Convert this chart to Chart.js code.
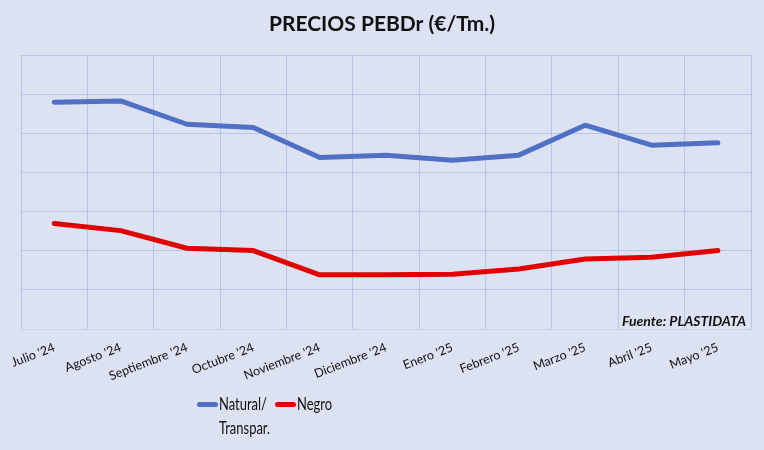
<!DOCTYPE html>
<html>
<head>
<meta charset="utf-8">
<script src="https://cdn.jsdelivr.net/npm/chart.js@4/dist/chart.umd.min.js"></script>
<style>
  html, body { margin:0; padding:0; background:#DCE2F1; }
  #wrap { position:relative; width:764px; height:450px; }
  #legend { position:absolute; left:0; top:391px; width:764px; font-family:Lato, sans-serif; font-size:18px; color:#111; }
  .item { position:absolute; top:0; display:flex; align-items:flex-start; line-height:24px; }
  .swatch { width:21px; height:5px; border-radius:3px; margin-top:11px; margin-right:1px; flex:none; }
  .txt { transform: scaleX(0.72); transform-origin: left top; white-space:nowrap; }
</style>
</head>
<body>
<div id="wrap">
  <canvas id="c" width="764" height="450"></canvas>
  <div id="legend"></div>
</div>
<script>
const categories = ["Julio '24","Agosto '24","Septiembre '24","Octubre '24","Noviembre '24","Diciembre '24","Enero '25","Febrero '25","Marzo '25","Abril '25","Mayo '25"];
const naturalValues = [1160, 1166, 1047, 1030, 877, 889, 863, 889, 1042, 940, 952];
const negroValues = [540, 503, 413, 401, 277, 277, 280, 307, 358, 367, 401];
const seriesNames = [["Natural/","Transpar."], ["Negro"]];
const seriesColors = ["#4F70C4", "#E10000"];
const titleText = "PRECIOS PEBDr (€/Tm.)";
const sourceText = "Fuente: PLASTIDATA";

const sourcePlugin = {
  id: 'sourceNote',
  afterDatasetsDraw(chart) {
    const {ctx, chartArea} = chart;
    ctx.save();
    ctx.font = "italic bold 14px Lato, sans-serif";
    ctx.fillStyle = "#111";
    ctx.textAlign = "right";
    ctx.textBaseline = "alphabetic";
    ctx.fillText(sourceText, chartArea.right - 5, chartArea.bottom - 3);
    ctx.restore();
  }
};

const bgPlugin = {
  id: 'bg',
  beforeDraw(chart) {
    const {ctx, width, height} = chart;
    ctx.save();
    ctx.fillStyle = "#DCE2F1";
    ctx.fillRect(0, 0, width, height);
    ctx.restore();
  }
};

new Chart(document.getElementById('c'), {
  type: 'line',
  data: {
    labels: categories,
    datasets: [
      { label: seriesNames[0].join(' '), data: naturalValues, borderColor: seriesColors[0], backgroundColor: seriesColors[0], borderWidth: 5, pointRadius: 0, tension: 0, borderCapStyle: 'round', borderJoinStyle: 'round' },
      { label: seriesNames[1].join(' '), data: negroValues, borderColor: seriesColors[1], backgroundColor: seriesColors[1], borderWidth: 5, pointRadius: 0, tension: 0, borderCapStyle: 'round', borderJoinStyle: 'round' }
    ]
  },
  options: {
    responsive: false,
    animation: false,
    devicePixelRatio: 1,
    layout: { padding: 0 },
    plugins: {
      legend: { display: false },
      tooltip: { enabled: false },
      title: {
        display: true,
        text: titleText,
        color: '#111',
        font: { family: 'Lato, sans-serif', size: 21, weight: 'bold' },
        padding: { top: 12, bottom: 18 }
      }
    },
    scales: {
      x: {
        offset: true,
        grid: { offset: true, color: '#B6C6E6', lineWidth: 1, drawTicks: false },
        border: { display: true, color: '#CDD3E0' },
        ticks: {
          color: '#111',
          font: { family: 'Lato, sans-serif', size: 12.5 },
          minRotation: 21, maxRotation: 21,
          padding: 11,
          autoSkip: false
        },
        afterFit(scale) { scale.height = 121; }
      },
      y: {
        min: 0, max: 1400,
        ticks: { display: false, stepSize: 200 },
        grid: { color: '#B6C6E6', lineWidth: 1, drawTicks: false },
        border: { display: false },
        afterFit(scale) { scale.width = 20; }
      },
      yRight: {
        position: 'right',
        min: 0, max: 1400,
        ticks: { display: false },
        grid: { display: false, drawTicks: false },
        border: { display: false },
        afterFit(scale) { scale.width = 13; }
      }
    }
  },
  plugins: [bgPlugin, sourcePlugin]
});

// HTML legend
const legend = document.getElementById('legend');
const positions = [197, 275];
seriesNames.forEach((name, i) => {
  const item = document.createElement('div');
  item.className = 'item';
  item.style.left = positions[i] + 'px';
  const sw = document.createElement('div');
  sw.className = 'swatch';
  sw.style.background = seriesColors[i];
  const txt = document.createElement('div');
  txt.className = 'txt';
  name.forEach(line => { const d = document.createElement('div'); d.textContent = line; txt.appendChild(d); });
  item.appendChild(sw);
  item.appendChild(txt);
  legend.appendChild(item);
});
</script>
</body>
</html>
